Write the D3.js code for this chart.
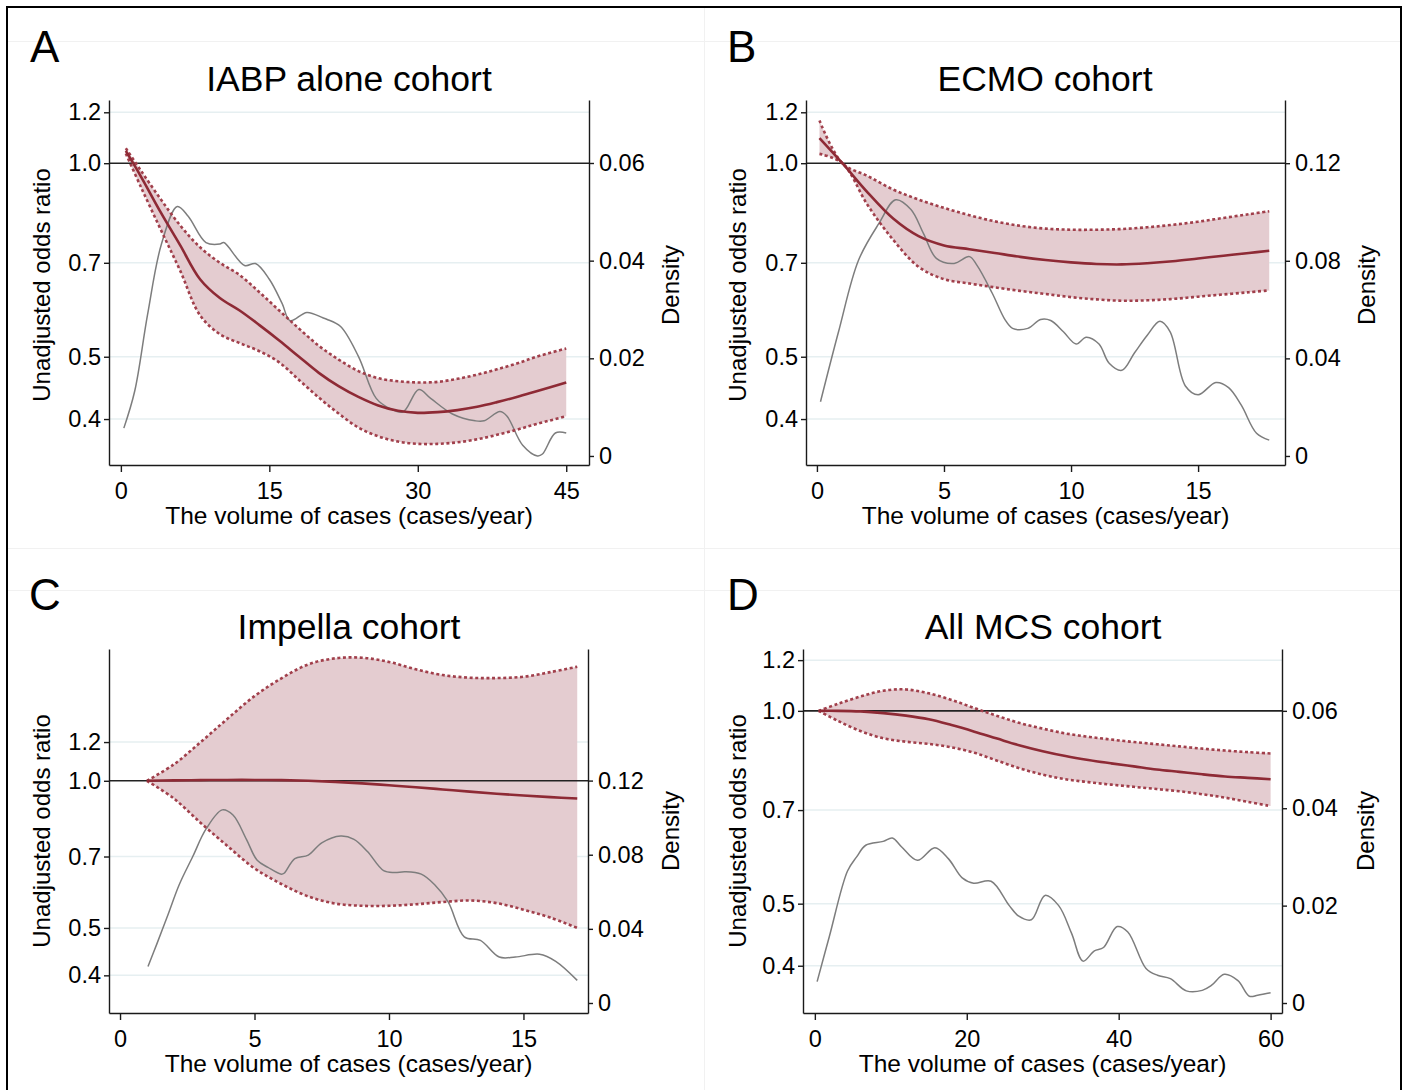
<!DOCTYPE html>
<html>
<head>
<meta charset="utf-8">
<script src="https://cdn.jsdelivr.net/npm/d3@7"></script>
<style>
body { margin: 0; background: #fff; }
text { font-family: "Liberation Sans", Arial, sans-serif; fill: #000; }
</style>
</head>
<body>
<script>
//
// data
//
var panelLetters = ["A", "B", "C", "D"];
var panelTitles = ["IABP alone cohort", "ECMO cohort", "Impella cohort", "All MCS cohort"];
var xTitle = "The volume of cases (cases/year)";
var yTitle = "Unadjusted odds ratio";
var densTitle = "Density";

var orTicks = [0.4, 0.5, 0.7, 1.0, 1.2];
var orTickLabels = ["0.4", "0.5", "0.7", "1.0", "1.2"];

var xTicksA = [0, 15, 30, 45];
var xTicksB = [0, 5, 10, 15];
var xTicksC = [0, 5, 10, 15];
var xTicksD = [0, 20, 40, 60];

var densTicksA = [0, 0.02, 0.04, 0.06];
var densTicksB = [0, 0.04, 0.08, 0.12];
var densTicksC = [0, 0.04, 0.08, 0.12];
var densTicksD = [0, 0.02, 0.04, 0.06];

// A: IABP alone
var volA   = [0.5, 2, 4, 6, 8, 10, 12, 14, 16, 18, 20, 22, 24, 26, 28, 30, 32, 34, 36, 38, 40, 42, 45];
var fitA   = [1.045, 0.955, 0.84, 0.745, 0.66, 0.617, 0.59, 0.56, 0.53, 0.5, 0.472, 0.45, 0.433, 0.42, 0.412, 0.409, 0.41, 0.413, 0.418, 0.425, 0.433, 0.442, 0.456];
var upA    = [1.055, 0.975, 0.88, 0.8, 0.74, 0.70, 0.67, 0.63, 0.59, 0.553, 0.52, 0.495, 0.475, 0.463, 0.458, 0.456, 0.457, 0.462, 0.469, 0.478, 0.488, 0.5, 0.515];
var loA    = [1.035, 0.92, 0.79, 0.68, 0.58, 0.542, 0.525, 0.51, 0.49, 0.46, 0.432, 0.408, 0.388, 0.376, 0.369, 0.366, 0.366, 0.368, 0.372, 0.378, 0.385, 0.393, 0.404];
var densXA = [0.3, 1.4, 2.7, 4.1, 5.7, 6.8, 8.6, 10, 10.4, 12.5, 13.6, 15, 16.3, 17.1, 18.8, 20.4, 20.8, 22.2, 24, 25.8, 27.2, 28.5, 30.1, 31.3, 33.5, 35.8, 36.7, 38.3, 39, 40.6, 42.1, 42.6, 43.9, 45];
var densA  = [0.0057, 0.0133, 0.029, 0.0434, 0.0511, 0.0491, 0.0437, 0.0434, 0.0437, 0.039, 0.0394, 0.0362, 0.0312, 0.0277, 0.0294, 0.0283, 0.028, 0.0265, 0.0204, 0.0118, 0.0097, 0.009, 0.0136, 0.0118, 0.0086, 0.0072, 0.0072, 0.0091, 0.0082, 0.0022, 0.0, 0.0004, 0.0047, 0.0047];

// B: ECMO
var volB   = [0.1, 1, 2, 3, 4, 5, 6, 7, 8, 9, 10, 11, 12, 13, 14, 15, 16, 17, 17.8];
var fitB   = [1.094, 1.0, 0.9, 0.82, 0.77, 0.745, 0.735, 0.725, 0.715, 0.707, 0.701, 0.697, 0.696, 0.699, 0.704, 0.711, 0.718, 0.725, 0.731];
var upB    = [1.165, 1.0, 0.955, 0.91, 0.878, 0.852, 0.83, 0.812, 0.799, 0.791, 0.788, 0.788, 0.79, 0.795, 0.802, 0.811, 0.822, 0.833, 0.842];
var loB    = [1.034, 1.0, 0.86, 0.76, 0.69, 0.66, 0.65, 0.641, 0.633, 0.626, 0.619, 0.614, 0.611, 0.612, 0.615, 0.62, 0.625, 0.63, 0.634];
var densXB = [0.14, 0.85, 1.64, 2.44, 3.1, 3.7, 4.2, 4.7, 5.4, 6.0, 6.3, 6.9, 7.4, 7.7, 8.3, 8.8, 9.2, 9.7, 10.2, 10.6, 11.1, 11.5, 12.0, 12.5, 13.0, 13.5, 13.9, 14.5, 15.0, 15.7, 16.2, 16.7, 17.3, 17.8];
var densB  = [0.0222, 0.0509, 0.0803, 0.0953, 0.105, 0.101, 0.091, 0.081, 0.0789, 0.0817, 0.0781, 0.0667, 0.0559, 0.0523, 0.0523, 0.0559, 0.0555, 0.0509, 0.0459, 0.0487, 0.0459, 0.038, 0.0351, 0.0423, 0.0495, 0.0552, 0.0509, 0.0287, 0.0251, 0.0301, 0.028, 0.0208, 0.0093, 0.0065];

// C: Impella
var volC   = [1, 2, 3, 4, 5, 6, 7, 8, 9, 10, 11, 12, 13, 14, 15, 16, 17];
var fitC   = [1.0, 1.002, 1.003, 1.004, 1.004, 1.003, 1.0, 0.995, 0.988, 0.979, 0.97, 0.96, 0.95, 0.941, 0.933, 0.926, 0.92];
var upC    = [1.0, 1.08, 1.2, 1.34, 1.49, 1.62, 1.73, 1.78, 1.785, 1.75, 1.69, 1.645, 1.625, 1.622, 1.632, 1.668, 1.711];
var loC    = [1.0, 0.92, 0.82, 0.735, 0.662, 0.615, 0.58, 0.561, 0.555, 0.555, 0.559, 0.565, 0.569, 0.562, 0.545, 0.525, 0.5];
var densXC = [1.04, 1.37, 1.79, 2.2, 2.7, 3.2, 3.8, 4.2, 4.7, 5.1, 5.5, 6.0, 6.1, 6.5, 7.0, 7.5, 8.2, 8.7, 9.2, 9.8, 10.2, 10.6, 11.2, 11.7, 12.2, 12.8, 13.4, 14.1, 14.7, 15.6, 16.2, 17];
var densC  = [0.0197, 0.0319, 0.0479, 0.0638, 0.0789, 0.0939, 0.1042, 0.1014, 0.0883, 0.077, 0.0732, 0.0695, 0.07, 0.0779, 0.0798, 0.0864, 0.0901, 0.0883, 0.0817, 0.0714, 0.0704, 0.0708, 0.0695, 0.0638, 0.0545, 0.0357, 0.0338, 0.0248, 0.0248, 0.0263, 0.0225, 0.0122];

// D: all MCS
var volD   = [0.5, 3, 6, 9, 12, 15, 18, 21, 24, 27, 30, 33, 36, 39, 42, 45, 48, 51, 54, 57, 60];
var fitD   = [1.0, 1.0, 0.998, 0.992, 0.983, 0.97, 0.95, 0.928, 0.905, 0.883, 0.865, 0.85, 0.838, 0.828, 0.819, 0.81, 0.803, 0.796, 0.79, 0.786, 0.782];
var upD    = [1.0, 1.025, 1.053, 1.075, 1.08, 1.065, 1.04, 1.01, 0.982, 0.957, 0.938, 0.922, 0.911, 0.902, 0.894, 0.887, 0.88, 0.873, 0.867, 0.862, 0.858];
var loD    = [1.0, 0.965, 0.93, 0.906, 0.895, 0.888, 0.877, 0.86, 0.836, 0.813, 0.795, 0.782, 0.774, 0.767, 0.761, 0.755, 0.749, 0.741, 0.732, 0.721, 0.71];
var densXD = [0.3, 1.9, 4.3, 5.5, 6.7, 9.0, 10.2, 11.4, 13.5, 15.8, 17.6, 19.4, 20.9, 23.2, 25.6, 26.8, 28.5, 30.3, 32.1, 33.8, 35.3, 36.8, 38, 39.8, 41.2, 43.6, 45.1, 46.8, 48.9, 51, 52.2, 53.9, 55.7, 57.2, 58.3, 60];
var densD  = [0.0044, 0.0136, 0.0271, 0.03, 0.0324, 0.0332, 0.0339, 0.0321, 0.0293, 0.0319, 0.0296, 0.0257, 0.0246, 0.025, 0.02, 0.0179, 0.0171, 0.0221, 0.02, 0.0143, 0.0086, 0.0107, 0.0114, 0.0157, 0.0146, 0.0071, 0.0057, 0.005, 0.0025, 0.0026, 0.0036, 0.0059, 0.0046, 0.0014, 0.0016, 0.0021];

//
// colours
//
var fitColor = "#8e2a35";
var ciColor = "#a13f4b";
var fillColor = "#e4ccd0";
var densColor = "#7d7d7d";
var gridColor = "#e6eff1";
var axisColor = "#1a1a1a";

//
// panel layout (pixel boxes and axis ranges)
//
var panels = [
  { left: 109, right: 589, top: 100, bottom: 465, xDom: [-1.2, 47.3], orDom: [0.3393, 1.254], dDom: [-0.00185, 0.0729],
    oy: 0, yTitleX: 50, densTitleX: 679, titleX: 349, yMid: 285,
    vol: volA, fit: fitA, up: upA, lo: loA, dx: densXA, dy: densA, xTicks: xTicksA, dTicks: densTicksA },
  { left: 806, right: 1285, top: 100, bottom: 465, xDom: [-0.43, 18.42], orDom: [0.3393, 1.254], dDom: [-0.0037, 0.1459],
    oy: 0, yTitleX: 746, densTitleX: 1375, titleX: 1045, yMid: 285,
    vol: volB, fit: fitB, up: upB, lo: loB, dx: densXB, dy: densB, xTicks: xTicksB, dTicks: densTicksB },
  { left: 109, right: 588, top: 649, bottom: 1013, xDom: [-0.41, 17.4], orDom: [0.335, 1.86], dDom: [-0.0054, 0.191],
    oy: 548, yTitleX: 50, densTitleX: 679, titleX: 349, yMid: 831,
    vol: volC, fit: fitC, up: upC, lo: loC, dx: densXC, dy: densC, xTicks: xTicksC, dTicks: densTicksC },
  { left: 803, right: 1282, top: 649, bottom: 1013, xDom: [-1.56, 61.5], orDom: [0.3375, 1.249], dDom: [-0.00205, 0.0727],
    oy: 548, yTitleX: 746, densTitleX: 1374, titleX: 1043, yMid: 831,
    vol: volD, fit: fitD, up: upD, lo: loD, dx: densXD, dy: densD, xTicks: xTicksD, dTicks: densTicksD }
];
var letterX = [30, 727, 29, 727];

var svg = d3.select("body").append("svg")
  .attr("width", 1408)
  .attr("height", 1090);

svg.append("rect").attr("width", 1408).attr("height", 1090).attr("fill", "#fff");

// faint seams of the pasted panel images
var seams = svg.append("g").attr("stroke", "#f1f1f1").attr("stroke-width", 1);
seams.append("line").attr("x1", 8).attr("x2", 1400).attr("y1", 41.5).attr("y2", 41.5);
seams.append("line").attr("x1", 8).attr("x2", 1400).attr("y1", 548.5).attr("y2", 548.5);
seams.append("line").attr("x1", 8).attr("x2", 1400).attr("y1", 590.5).attr("y2", 590.5);
seams.append("line").attr("x1", 704.5).attr("x2", 704.5).attr("y1", 8).attr("y2", 1090);

// outer frame
svg.append("rect")
  .attr("x", 7).attr("y", 7)
  .attr("width", 1394).attr("height", 1100)
  .attr("fill", "none").attr("stroke", "#000").attr("stroke-width", 2);

//
// draw a panel
//
drawPanel = function(p, i) {
  var x = d3.scaleLinear().domain(p.xDom).range([p.left, p.right]);
  var y = d3.scaleLog().domain(p.orDom).range([p.bottom, p.top]);
  var yd = d3.scaleLinear().domain(p.dDom).range([p.bottom, p.top]);
  var g = svg.append("g");

  // horizontal grid at the odds-ratio ticks
  g.selectAll(".grid")
    .data(orTicks.filter(function(t) { return t !== 1.0; }))
    .enter().append("line")
    .attr("x1", p.left).attr("x2", p.right)
    .attr("y1", function(d) { return y(d); })
    .attr("y2", function(d) { return y(d); })
    .attr("stroke", gridColor)
    .attr("stroke-width", 1.5);

  var rows = p.vol.map(function(v, k) { return { v: v, fit: p.fit[k], up: p.up[k], lo: p.lo[k] }; });
  var curve = d3.curveCatmullRom;

  // confidence band
  g.append("path")
    .attr("d", d3.area().curve(curve)
      .x(function(d) { return x(d.v); })
      .y0(function(d) { return y(d.lo); })
      .y1(function(d) { return y(d.up); })(rows))
    .attr("fill", fillColor);

  // density of case volume
  var dens = p.dx.map(function(v, k) { return [v, p.dy[k]]; });
  g.append("path")
    .attr("d", d3.line().curve(d3.curveCatmullRom)
      .x(function(d) { return x(d[0]); })
      .y(function(d) { return yd(d[1]); })(dens))
    .attr("fill", "none")
    .attr("stroke", densColor)
    .attr("stroke-width", 1.5);

  // reference line OR = 1
  g.append("line")
    .attr("x1", p.left).attr("x2", p.right)
    .attr("y1", y(1)).attr("y2", y(1))
    .attr("stroke", "#222")
    .attr("stroke-width", 1.6);

  // CI bounds
  ["up", "lo"].forEach(function(key) {
    g.append("path")
      .attr("d", d3.line().curve(curve)
        .x(function(d) { return x(d.v); })
        .y(function(d) { return y(d[key]); })(rows))
      .attr("fill", "none")
      .attr("stroke", ciColor)
      .attr("stroke-width", 2.6)
      .attr("stroke-dasharray", "3,2.6");
  });

  // fitted odds ratio
  g.append("path")
    .attr("d", d3.line().curve(curve)
      .x(function(d) { return x(d.v); })
      .y(function(d) { return y(d.fit); })(rows))
    .attr("fill", "none")
    .attr("stroke", fitColor)
    .attr("stroke-width", 2.6);

  // axes
  var yAxis = d3.axisLeft(y).tickValues(orTicks)
    .tickFormat(function(d, k) { return orTickLabels[k]; })
    .tickSize(5).tickSizeOuter(0).tickPadding(3);
  var dAxis = d3.axisRight(yd).tickValues(p.dTicks)
    .tickFormat(function(d) { return d === 0 ? "0" : d3.format(".2f")(d); })
    .tickSize(5).tickSizeOuter(0).tickPadding(5);
  var xAxis = d3.axisBottom(x).tickValues(p.xTicks)
    .tickSize(7).tickSizeOuter(0).tickPadding(10);

  var ay = g.append("g").attr("transform", "translate(" + p.left + ",0)").call(yAxis);
  var ad = g.append("g").attr("transform", "translate(" + p.right + ",0)").call(dAxis);
  var ax = g.append("g").attr("transform", "translate(0," + p.bottom + ")").call(xAxis);
  [ay, ad, ax].forEach(function(a) {
    a.attr("font-family", null).attr("font-size", null);
    a.selectAll("path, line").attr("stroke", axisColor).attr("stroke-width", 1.4);
    a.selectAll("text").attr("font-size", 23.5).attr("fill", "#000");
  });

  // titles
  svg.append("text")
    .text(panelLetters[i])
    .attr("x", letterX[i])
    .attr("y", p.oy + 62)
    .attr("font-size", 44);

  svg.append("text")
    .text(panelTitles[i])
    .attr("x", p.titleX)
    .attr("y", p.oy + 91)
    .attr("text-anchor", "middle")
    .attr("font-size", 35.5);

  svg.append("text")
    .text(xTitle)
    .attr("x", (p.left + p.right) / 2)
    .attr("y", p.bottom + 59)
    .attr("text-anchor", "middle")
    .attr("font-size", 24.5);

  svg.append("text")
    .text(yTitle)
    .attr("transform", "translate(" + p.yTitleX + "," + p.yMid + ") rotate(-90)")
    .attr("text-anchor", "middle")
    .attr("font-size", 24);

  svg.append("text")
    .text(densTitle)
    .attr("transform", "translate(" + p.densTitleX + "," + p.yMid + ") rotate(-90)")
    .attr("text-anchor", "middle")
    .attr("font-size", 24);
}

panels.forEach(drawPanel);
</script>
</body>
</html>
